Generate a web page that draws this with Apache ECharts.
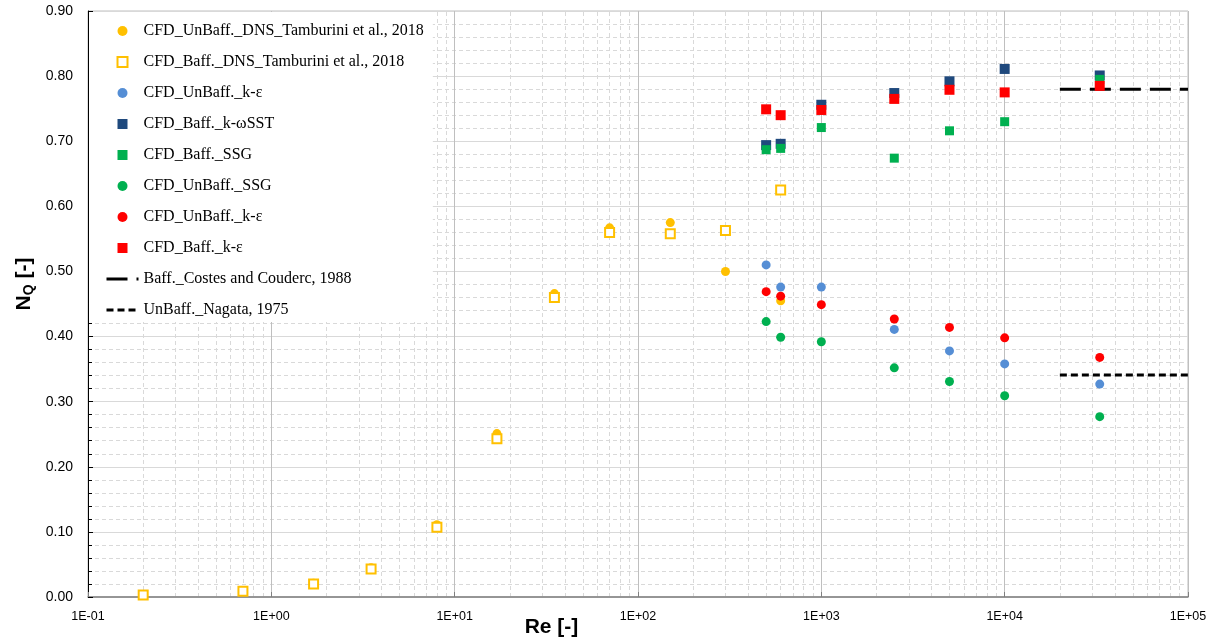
<!DOCTYPE html>
<html>
<head>
<meta charset="utf-8">
<script src="https://cdn.jsdelivr.net/npm/echarts@6/dist/echarts.min.js"></script>
<style>html,body{margin:0;padding:0;background:#fff}#c{width:1219px;height:642px}</style>
</head>
<body>
<div id="c"></div>
<script>
// ---- data ----
const reDNS = [0.2, 0.7, 1.7, 3.5, 8, 17, 35, 70, 150, 300, 600];
const nqUnBaffDNS = [0.003, 0.010, 0.021, 0.045, 0.111, 0.251, 0.466, 0.567, 0.575, 0.500, 0.455];
const nqBaffDNS   = [0.003, 0.009, 0.020, 0.043, 0.107, 0.243, 0.460, 0.560, 0.558, 0.563, 0.625];

const reCFD = [500, 600, 1000, 2500, 5000, 10000, 33000];
const nqUnBaffKe1 = [0.510, 0.476, 0.476, 0.411, 0.378, 0.358, 0.327];
const nqBaffKwSST = [0.694, 0.696, 0.756, 0.774, 0.792, 0.811, 0.801];
const nqBaffSSG   = [0.687, 0.689, 0.721, 0.674, 0.716, 0.730, 0.795];
const nqUnBaffSSG = [0.423, 0.399, 0.392, 0.352, 0.331, 0.309, 0.277];
const nqUnBaffKe2 = [0.469, 0.462, 0.449, 0.427, 0.414, 0.398, 0.368];
const nqBaffKe    = [0.749, 0.740, 0.748, 0.765, 0.779, 0.775, 0.785];

const reCorr = [20000, 100000];
const nqCostes = [0.780, 0.780];
const nqNagata = [0.341, 0.341];

const xTickValues = [0.1, 1, 10, 100, 1000, 10000, 100000];
const xTickLabels = ['1E-01', '1E+00', '1E+01', '1E+02', '1E+03', '1E+04', '1E+05'];
const yTickValues = [0, 0.1, 0.2, 0.3, 0.4, 0.5, 0.6, 0.7, 0.8, 0.9];
const yTickLabels = ['0.00', '0.10', '0.20', '0.30', '0.40', '0.50', '0.60', '0.70', '0.80', '0.90'];

const names = [
  'CFD_UnBaff._DNS_Tamburini et al., 2018',
  'CFD_Baff._DNS_Tamburini et al., 2018',
  'CFD_UnBaff._k-\u03B5',
  'CFD_Baff._k-\u03C9SST',
  'CFD_Baff._SSG',
  'CFD_UnBaff._SSG',
  'CFD_UnBaff._k-\u03B5 ',
  'CFD_Baff._k-\u03B5',
  'Baff._Costes and Couderc, 1988',
  'UnBaff._Nagata, 1975'
];
const legendIcons = ['circle', 'square', 'circle', 'square', 'square', 'circle', 'circle', 'square', 'line', 'line'];

function pairs(xs, ys) { return xs.map((x, i) => [x, ys[i]]); }

// minor vertical grid positions (2..9 in each decade)
const minorX = [];
for (let d = 0; d < xTickValues.length - 1; d++) {
  for (let k = 2; k <= 9; k++) minorX.push({ xAxis: xTickValues[d] * k });
}

const chart = echarts.init(document.getElementById('c'), null, { renderer: 'canvas' });

function scatter(name, xs, ys, symbol, color, extra) {
  return Object.assign({
    name, type: 'scatter', data: pairs(xs, ys), symbol, symbolSize: 9, z: 3,
    itemStyle: { color, opacity: 1 }, emphasis: { disabled: true }
  }, extra || {});
}

const LBL = '"Liberation Sans", Arial, sans-serif';
const SQ = 'path://M0,0L10,0L10,10L0,10Z';
const DASH_COSTES = [21, 9];
const DASH_NAGATA = [7, 4];

function legendItem(n, i) {
  if (legendIcons[i] === 'square') return { name: n, icon: SQ };
  if (legendIcons[i] === 'line') return {
    name: n,
    itemStyle: { color: 'rgba(0,0,0,0)', borderColor: 'rgba(0,0,0,0)', borderWidth: 0 },
    lineStyle: { color: '#000', width: 3, type: i === 8 ? DASH_COSTES : DASH_NAGATA }
  };
  return { name: n };
}

chart.setOption({
  animation: false,
  backgroundColor: '#fff',
  grid: { left: 88, right: 31, top: 11, bottom: 45, show: true, borderColor: '#bfbfbf', borderWidth: 1, backgroundColor: 'transparent' },
  legend: {
    orient: 'vertical', left: 89, top: 12, z: 10,
    padding: [11, 9, 4, 16],
    backgroundColor: '#fff',
    itemWidth: 32, itemHeight: 10, itemGap: 15,
    symbolKeepAspect: true,
    textStyle: { fontFamily: '"Liberation Serif", "Times New Roman", serif', fontSize: 16, color: '#000', lineHeight: 16 },
    data: names.map(legendItem),
    selectedMode: false
  },
  xAxis: {
    type: 'log', logBase: 10, min: 0.1, max: 100000,
    axisLine: { show: true, lineStyle: { color: '#7f7f7f', width: 1.5 } },
    axisTick: { show: true, inside: true, length: 5, lineStyle: { color: '#7f7f7f' } },
    axisLabel: {
      margin: 13, fontFamily: LBL, fontSize: 12.5, color: '#000',
      formatter: v => { const i = xTickValues.findIndex(t => Math.abs(Math.log10(t) - Math.log10(v)) < 1e-6); return i >= 0 ? xTickLabels[i] : ''; }
    },
    splitLine: { show: true, lineStyle: { color: '#bfbfbf', width: 1 } }
  },
  yAxis: {
    type: 'value', min: 0, max: 0.9, interval: 0.1,
    axisLine: { show: true, lineStyle: { color: '#000', width: 1 } },
    axisTick: { show: true, inside: true, length: 5, lineStyle: { color: '#000' } },
    minorTick: { show: true, splitNumber: 5, length: 4, lineStyle: { color: '#000' } },
    axisLabel: {
      margin: 15, fontFamily: LBL, fontSize: 14, color: '#000',
      formatter: v => { const i = yTickValues.findIndex(t => Math.abs(t - v) < 1e-6); return i >= 0 ? yTickLabels[i] : ''; }
    },
    splitLine: { show: true, lineStyle: { color: '#d9d9d9', width: 1 } },
    minorSplitLine: { show: true, lineStyle: { color: '#d9d9d9', width: 1, type: [4, 3] } }
  },
  series: [
    {
      name: '_grid', type: 'scatter', data: [], silent: true, z: 0,
      markLine: {
        silent: true, z: 0, symbol: ['none', 'none'], label: { show: false },
        lineStyle: { color: '#d9d9d9', width: 1, type: [4, 3] },
        emphasis: { disabled: true },
        data: minorX
      }
    },
    scatter(names[0], reDNS, nqUnBaffDNS, 'circle', '#FFC000'),
    scatter(names[1], reDNS, nqBaffDNS, 'rect', '#FFFFFF', { symbolSize: 9, itemStyle: { color: '#FFFFFF', borderColor: '#FFC000', borderWidth: 2, opacity: 1 } }),
    scatter(names[2], reCFD, nqUnBaffKe1, 'circle', '#558ED5'),
    scatter(names[3], reCFD, nqBaffKwSST, 'rect', '#1F497D', { symbolSize: 10 }),
    scatter(names[4], reCFD, nqBaffSSG, 'rect', '#00B050'),
    scatter(names[5], reCFD, nqUnBaffSSG, 'circle', '#00B050'),
    scatter(names[6], reCFD, nqUnBaffKe2, 'circle', '#FF0000'),
    scatter(names[7], reCFD, nqBaffKe, 'rect', '#FF0000', { symbolSize: 10 }),
    {
      name: names[8], type: 'line', data: pairs(reCorr, nqCostes), symbol: 'none', z: 3,
      itemStyle: { color: '#000' },
      lineStyle: { color: '#000', width: 3, type: DASH_COSTES }, emphasis: { disabled: true }
    },
    {
      name: names[9], type: 'line', data: pairs(reCorr, nqNagata), symbol: 'none', z: 3,
      itemStyle: { color: '#000' },
      lineStyle: { color: '#000', width: 3, type: DASH_NAGATA }, emphasis: { disabled: true }
    }
  ],
  graphic: [
    {
      type: 'text', x: 551.5, y: 627,
      style: { text: 'Re [-]', fontFamily: LBL, fontSize: 21, fontWeight: 'bold', fill: '#000', align: 'center', verticalAlign: 'middle' }
    },
    {
      type: 'text', x: 24, y: 284, rotation: Math.PI / 2,
      style: {
        text: '{n|N}{s|Q}{n| [-]}', align: 'center', verticalAlign: 'middle',
        rich: {
          n: { fontFamily: LBL, fontSize: 21, fontWeight: 'bold', fill: '#000' },
          s: { fontFamily: LBL, fontSize: 14, fontWeight: 'bold', fill: '#000', padding: [10, 0, 0, 0] }
        }
      }
    }
  ]
});
</script>
</body>
</html>
